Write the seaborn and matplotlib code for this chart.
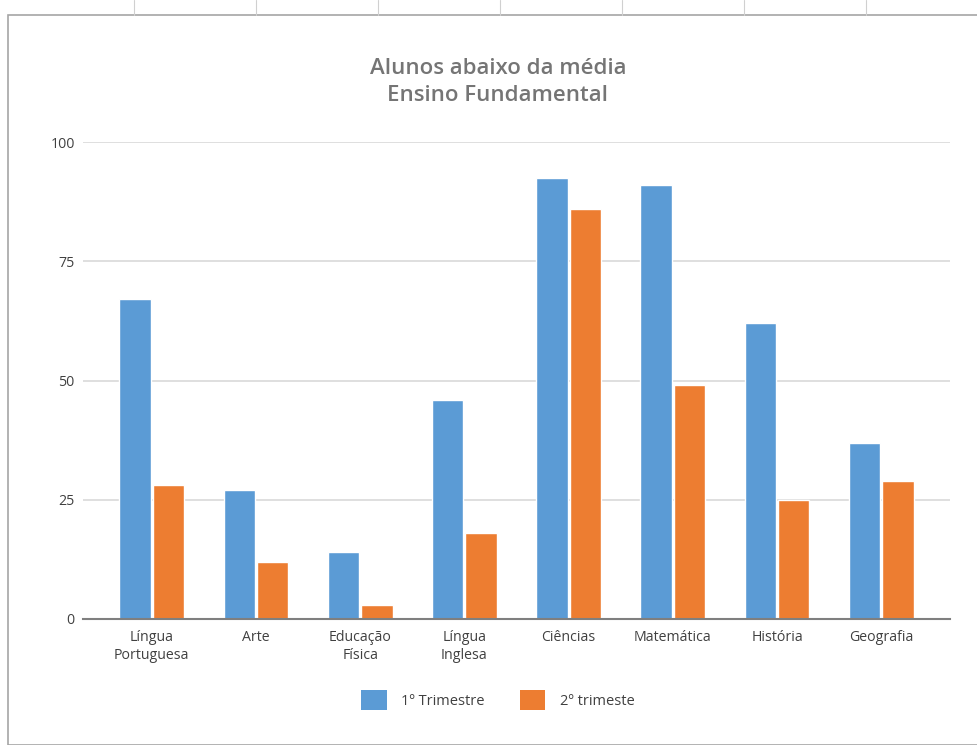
import matplotlib
matplotlib.use("Agg")
import matplotlib.pyplot as plt
import seaborn as sns
import pandas as pd
from matplotlib.patches import Patch, Rectangle
from matplotlib.lines import Line2D

disciplinas = ["Língua\nPortuguesa", "Arte", "Educação\nFísica", "Língua\nInglesa",
               "Ciências", "Matemática", "História", "Geografia"]
tri1 = [67, 27, 14, 46, 92.5, 91, 62, 37]
tri2 = [28, 12, 3, 18, 86, 49, 25, 29]
series = ["1º Trimestre", "2º trimeste"]
cores = ["#5B9BD5", "#ED7D31"]

df = pd.DataFrame({
    "disciplina": disciplinas * 2,
    "valor": tri1 + tri2,
    "serie": [series[0]] * len(tri1) + [series[1]] * len(tri2),
})

sns.set_style("white")
plt.rcParams["font.family"] = ["Open Sans", "DejaVu Sans"]

fig = plt.figure(figsize=(9.78, 7.45), dpi=100)
ax = fig.add_axes([83 / 978, 1 - 619 / 745, 867 / 978, 477 / 745])

sns.barplot(data=df, x="disciplina", y="valor", hue="serie", palette=cores,
            width=0.64, gap=0.06, ax=ax, legend=False, saturation=1)

ax.set_xlim(-0.66, 7.66)
ax.set_ylim(0, 100)
ax.set_yticks([0, 25, 50, 75, 100])
ax.yaxis.grid(True, color="#D9D9D9", linewidth=1.2)
ax.set_axisbelow(True)
for s in ["top", "right", "left"]:
    ax.spines[s].set_visible(False)
ax.spines["bottom"].set_color("#7F7F7F")
ax.spines["bottom"].set_linewidth(1.5)
ax.set_xlabel("")
ax.set_ylabel("")
ax.tick_params(axis="both", length=0, labelsize=10.2, labelcolor="#404040")
ax.tick_params(axis="y", pad=6)
ax.tick_params(axis="x", pad=8)
for t in ax.get_xticklabels():
    t.set_linespacing(1.25)

fig.text(0.509, 1 - 58 / 745, "Alunos abaixo da média\nEnsino Fundamental",
         ha="center", va="top", fontsize=16, fontweight="semibold",
         color="#757575", linespacing=1.35)

handles = [Patch(facecolor=c, edgecolor="none") for c in cores]
fig.legend(handles, series, loc="center", bbox_to_anchor=(0.509, 1 - 700 / 745),
           ncol=2, frameon=False, fontsize=10.5, handlelength=1.75, handleheight=1.75,
           columnspacing=2.4, handletextpad=1.0, labelcolor="#404040")

# moldura do gráfico sobre a planilha
fig.add_artist(Rectangle((8 / 978, 0), 1, 1 - 15 / 745, transform=fig.transFigure,
                         fill=False, edgecolor="#A6A6A6", linewidth=1.2))
for xc in [134, 256, 378, 500, 622, 744, 866]:
    fig.add_artist(Line2D([xc / 978, xc / 978], [1 - 15 / 745, 1], transform=fig.transFigure,
                          color="#D0D0D0", linewidth=0.8))

fig.savefig("out.png", dpi=100)
